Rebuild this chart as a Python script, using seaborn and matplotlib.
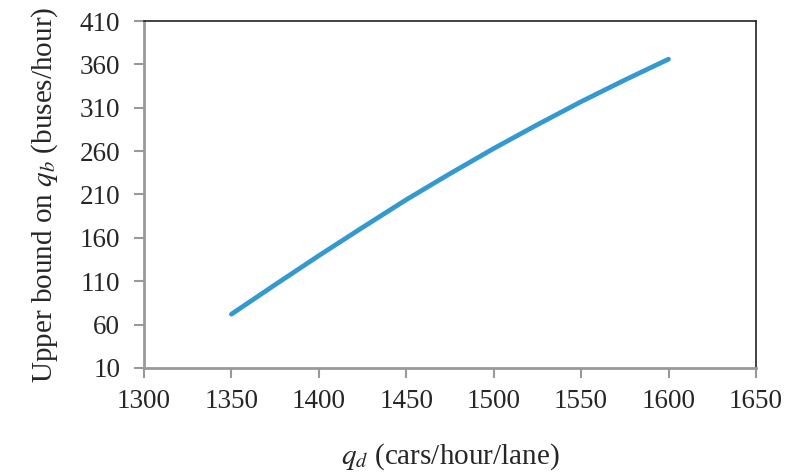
import pandas as pd
import matplotlib
matplotlib.use("Agg")
import matplotlib.pyplot as plt
import seaborn as sns

# values
qd = [1350, 1375, 1400, 1425, 1450, 1475, 1500, 1525, 1550, 1575, 1600]
qb_upper = [72, 106, 139.5, 172, 204, 234, 263, 290.5, 317, 342, 366]

df = pd.DataFrame({"qd": qd, "qb": qb_upper})

sns.set_style("white")
plt.rcParams['font.family'] = ['Liberation Serif', 'DejaVu Serif']
plt.rcParams['mathtext.fontset'] = 'stix'

fig = plt.figure(figsize=(7.85, 4.73), dpi=100)
ax = fig.add_axes([0.1834, 0.222, 0.7796, 0.7336])

sns.lineplot(data=df, x="qd", y="qb", ax=ax, color="#3399d0", linewidth=3.4,
             solid_capstyle="round")

ax.set_xlim(1300, 1650)
ax.set_ylim(10, 410)
ax.set_xticks(range(1300, 1651, 50))
ax.set_yticks(range(10, 411, 50))

for s in ["left", "bottom"]:
    ax.spines[s].set_color("#999999")
    ax.spines[s].set_linewidth(2)
for s in ["top", "right"]:
    ax.spines[s].set_color("#222222")
    ax.spines[s].set_linewidth(1.2)

ax.tick_params(axis="both", direction="out", length=7, width=1.5, color="#999999",
               labelsize=19.5, left=True, bottom=True)
ax.tick_params(axis="y", pad=10)
ax.tick_params(axis="x", pad=8)

ax.set_xlabel(r"$q_d$ (cars/hour/lane)", fontsize=21, labelpad=20)
ax.set_ylabel(r"Upper bound on $q_b$ (buses/hour)", fontsize=21, labelpad=14)

fig.savefig("out.png", dpi=100)
